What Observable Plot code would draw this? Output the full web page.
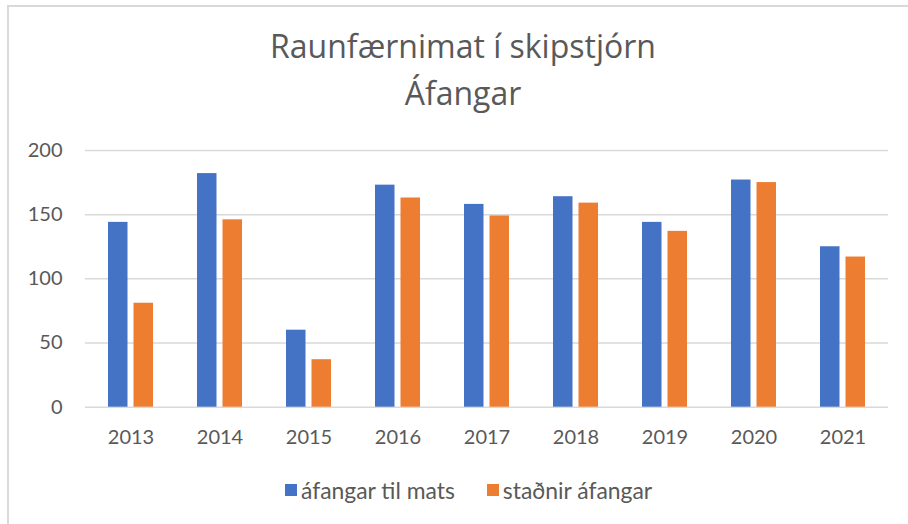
<!DOCTYPE html>
<html>
<head>
<meta charset="utf-8">
<script src="https://cdn.jsdelivr.net/npm/d3@7"></script>
<script src="https://cdn.jsdelivr.net/npm/@observablehq/plot@0.6"></script>
<style>
  html, body { margin: 0; padding: 0; background: #fff; overflow: hidden; }
  body { width: 908px; height: 524px; position: relative; font-family: Lato, "Open Sans", sans-serif; color: #595959; }
  #frame { position: absolute; left: 7px; top: 5px; width: 960px; height: 600px; border: 2px solid #d9d9d9; box-sizing: border-box; }
  .title { position: absolute; left: 0; width: 926px; text-align: center; font-family: "Open Sans", Lato, sans-serif; font-size: 32px; line-height: 32px; white-space: nowrap; }
  #chart { position: absolute; left: 0; top: 130px; }
  #legend { position: absolute; left: 285px; top: 478px; height: 24px; font-size: 22.9px; line-height: 24px; white-space: nowrap; display: flex; align-items: center; }
  .sw { display: inline-block; width: 12px; height: 12px; margin-right: 4px; }
  .item { display: flex; align-items: center; margin-right: 32px; }
</style>
</head>
<body>
<div id="frame"></div>
<div class="title" id="t1" style="top:30px"></div>
<div class="title" id="t2" style="top:77px"></div>
<div id="chart"></div>
<div id="legend"></div>
<script>
const titleLines = ["Raunfærnimat í skipstjórn", "Áfangar"];
const years = ["2013", "2014", "2015", "2016", "2017", "2018", "2019", "2020", "2021"];
const afangarTilMats = [144, 182, 60, 173, 158, 164, 144, 177, 125];
const stadnirAfangar = [81, 146, 37, 163, 149, 159, 137, 175, 117];
const seriesNames = ["áfangar til mats", "staðnir áfangar"];
const seriesColors = ["#4472C4", "#ED7D31"];
const yTicks = [0, 50, 100, 150, 200];

document.getElementById("t1").textContent = titleLines[0];
document.getElementById("t2").textContent = titleLines[1];

const rows = years.map((year, i) => ({year, a: afangarTilMats[i], b: stadnirAfangar[i]}));

const chart = Plot.plot({
  width: 908,
  height: 330,
  marginLeft: 85,
  marginRight: 20,
  marginTop: 20,
  marginBottom: 53.3,
  style: {fontFamily: "Lato, 'Open Sans', sans-serif", fontSize: "20px", color: "#595959", background: "transparent"},
  x: {domain: years, type: "band", paddingInner: 0.49, paddingOuter: 0.245, label: null},
  y: {domain: [0, 200], label: null},
  marks: [
    Plot.ruleY(yTicks, {stroke: "#d9d9d9", strokeWidth: 1.5}),
    Plot.barY(rows, {x: "year", y: "a", fill: seriesColors[0], insetRight: 25.5}),
    Plot.barY(rows, {x: "year", y: "b", fill: seriesColors[1], insetLeft: 25.5}),
    Plot.axisY({ticks: yTicks, tickSize: 0, tickPadding: 23, fill: "#595959"}),
    Plot.axisX({tickSize: 0, tickPadding: 23, fill: "#595959"})
  ]
});
document.getElementById("chart").appendChild(chart);

const legend = document.getElementById("legend");
seriesNames.forEach((name, i) => {
  const item = document.createElement("span");
  item.className = "item";
  const sw = document.createElement("span");
  sw.className = "sw";
  sw.style.background = seriesColors[i];
  item.appendChild(sw);
  item.appendChild(document.createTextNode(name));
  legend.appendChild(item);
});
</script>
</body>
</html>
